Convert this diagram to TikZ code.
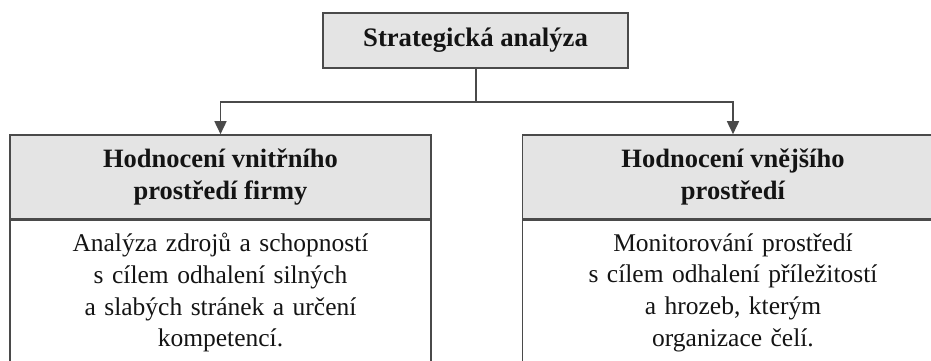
\documentclass[tikz,border=0pt]{standalone}
\usepackage{fontspec}
\setmainfont{Liberation Serif}
\usetikzlibrary{arrows.meta}
\definecolor{boxfill}{HTML}{E4E4E4}
\definecolor{edge}{HTML}{4A4A4A}
\definecolor{ink}{HTML}{141414}
\tikzset{
  boxline/.style={draw=edge, line width=1.6pt},
  headbox/.style={boxline, fill=boxfill, text=ink, font=\fontsize{26.5}{32}\selectfont\bfseries, align=center, inner sep=0pt},
  titlebox/.style={headbox, font=\fontsize{26.7}{32}\selectfont\bfseries},
  bodybox/.style={boxline, fill=white, text=ink, font=\fontsize{25.5}{31.7}\selectfont, align=center, inner xsep=0pt, inner ysep=13.5pt, anchor=north},
  conn/.style={draw=edge, line width=1.6pt},
  arrowtip/.style={conn, -{Triangle[width=12pt,length=13pt]}}
}
\begin{document}
\begin{tikzpicture}[x=1pt,y=-1pt]
\useasboundingbox (0,0) rectangle (931,361);
\fill[white] (0,0) rectangle (931,361);
\node[titlebox, minimum width=305, minimum height=55] (top) at (475.5,40.5) {Strategická analýza};
% left column
\node[bodybox, text width=421, minimum width=421] (lb) at (220.5,219) {Analýza zdrojů a schopností\\s cílem odhalení silných\\a slabých stránek a určení\\kompetencí.};
\node[headbox, minimum width=421, minimum height=84] (lh) at (220.5,177) {Hodnocení vnitřního\\prostředí firmy};
% right column
\node[bodybox, text width=421, minimum width=421] (rb) at (733,219) {Monitorování prostředí\\s cílem odhalení příležitostí\\a hrozeb, kterým\\organizace čelí.};
\node[headbox, minimum width=421, minimum height=84] (rh) at (733,177) {Hodnocení vnějšího\\prostředí};
% connectors
\coordinate (j) at (476,102);
\draw[conn] (top.south -| j) -- (j);
\draw[arrowtip] (j) -| (lh.north);
\draw[arrowtip] (j) -| (rh.north);
\end{tikzpicture}
\end{document}
